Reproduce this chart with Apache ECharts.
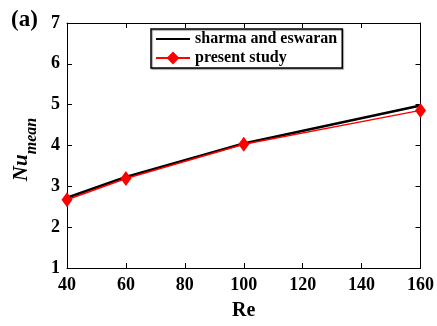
<!DOCTYPE html>
<html>
<head>
<meta charset="utf-8">
<script src="https://cdn.jsdelivr.net/npm/echarts@6/dist/echarts.min.js"></script>
<style>
  html, body { margin: 0; padding: 0; background: #fff; }
  #chart { width: 437px; height: 326px; }
</style>
</head>
<body>
<div id="chart"></div>
<script>
// data
const reValues = [40, 60, 100, 160];
const sharmaNu = [2.72, 3.23, 4.05, 4.98];
const presentNu = [2.67, 3.19, 4.03, 4.86];
const seriesNames = ['sharma and eswaran', 'present study'];

const serif = 'Liberation Serif, Times New Roman, serif';

const chart = echarts.init(document.getElementById('chart'));

const axisCommon = {
    axisLine: { show: true, onZero: false, lineStyle: { color: '#000', width: 1 } },
    axisTick: { show: true, inside: true, length: 5, lineStyle: { color: '#000' } },
    splitLine: { show: false },
};

const option = {
    backgroundColor: '#fff',
    animation: false,
    grid: { left: 67, right: 16, top: 23, bottom: 50 },
    title: {
        text: '(a)',
        left: 6,
        top: 4,
        textStyle: { fontFamily: serif, fontWeight: 'bold', fontSize: 23, color: '#000' },
    },
    legend: {
        left: 151,
        top: 29,
        orient: 'vertical',
        itemWidth: 34,
        itemHeight: 16,
        itemGap: 3,
        padding: [2, 5, 2, 4],
        borderColor: '#000',
        borderWidth: 1.5,
        backgroundColor: '#fff',
        shadowColor: 'rgba(0,0,0,0.4)',
        shadowOffsetX: 1,
        shadowOffsetY: 1,
        shadowBlur: 1,
        textStyle: { fontFamily: serif, fontWeight: 'bold', fontSize: 16, color: '#000' },
        data: [
            { name: seriesNames[0], itemStyle: { opacity: 0 } },
            { name: seriesNames[1] },
        ],
    },
    xAxis: [
        Object.assign({
            type: 'value',
            min: 40,
            max: 160,
            interval: 20,
            name: 'Re',
            nameLocation: 'middle',
            nameGap: 33,
            nameTextStyle: { fontFamily: serif, fontWeight: 'bold', fontSize: 20, color: '#000' },
            axisLabel: { fontFamily: serif, fontWeight: 'bold', fontSize: 18, color: '#000', margin: 8 },
        }, axisCommon),
        Object.assign({
            type: 'value',
            position: 'top',
            min: 40,
            max: 160,
            interval: 20,
            axisLabel: { show: false },
        }, axisCommon),
    ],
    yAxis: [
        Object.assign({
            type: 'value',
            min: 1,
            max: 7,
            interval: 1,
            name: '{nu|Nu}{sub|mean}',
            nameLocation: 'middle',
            nameRotate: 90,
            nameGap: 32,
            nameTextStyle: {
                padding: [0, 0, 0, -8],
                rich: {
                    nu: { fontFamily: serif, fontWeight: 'bold', fontStyle: 'italic', fontSize: 21, color: '#000', verticalAlign: 'bottom', lineHeight: 24 },
                    sub: { fontFamily: serif, fontWeight: 'bold', fontStyle: 'italic', fontSize: 16, color: '#000', verticalAlign: 'bottom', lineHeight: 14, padding: [0, 0, -8, 0] },
                },
            },
            axisLabel: { fontFamily: serif, fontWeight: 'bold', fontSize: 18, color: '#000', margin: 7 },
        }, axisCommon),
        Object.assign({
            type: 'value',
            position: 'right',
            min: 1,
            max: 7,
            interval: 1,
            axisLabel: { show: false },
        }, axisCommon),
    ],
    series: [
        {
            name: seriesNames[0],
            type: 'line',
            data: reValues.map((re, i) => [re, sharmaNu[i]]),
            symbol: 'none',
            lineStyle: { color: '#000', width: 2.5 },
            itemStyle: { color: '#000' },
            z: 2,
        },
        {
            name: seriesNames[1],
            type: 'line',
            data: reValues.map((re, i) => [re, presentNu[i]]),
            symbol: 'diamond',
            symbolSize: [11, 15],
            lineStyle: { color: '#ff0000', width: 1.5 },
            itemStyle: { color: '#ff0000' },
            z: 3,
        },
    ],
};

chart.setOption(option);
</script>
</body>
</html>
